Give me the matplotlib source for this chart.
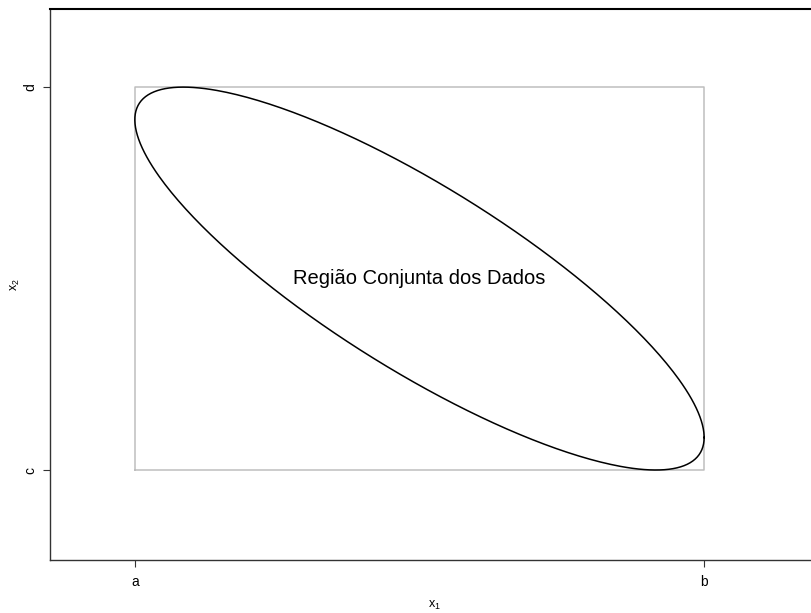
import numpy as np
import matplotlib.pyplot as plt

plt.rcParams['font.family'] = ['Liberation Sans', 'DejaVu Sans']

# region limits (a, b) x (c, d) in unit coordinates
x_ticks = [0.0, 1.0]
x_ticklabels = ['a', 'b']
y_ticks = [0.0, 1.0]
y_ticklabels = ['c', 'd']

# ellipse inscribed in the box: centre, half widths, correlation
centre = (0.5, 0.5)
half = (0.5, 0.5)
rho = -0.83

label = 'Região Conjunta dos Dados'

fig = plt.figure(figsize=(8.11, 6.13), dpi=100)
ax = fig.add_axes([50 / 811, 1 - 560 / 613, 768 / 811, 551 / 613])

# gray box of the individual ranges
ax.plot([x_ticks[0], x_ticks[1], x_ticks[1], x_ticks[0], x_ticks[0]],
        [y_ticks[0], y_ticks[0], y_ticks[1], y_ticks[1], y_ticks[0]],
        color='#bebebe', lw=1.1)

# ellipse touching each side of the box
t = np.linspace(0, 2 * np.pi, 400)
delta = np.arccos(rho)
ex = centre[0] + half[0] * np.cos(t)
ey = centre[1] + half[1] * np.cos(t + delta)
ax.plot(ex, ey, color='black', lw=1.1)

ax.text(0.5, 0.5, label, ha='center', va='center', fontsize=14.5)

ax.set_xlim(-0.149, 1.2)
ax.set_ylim(-0.235, 1.204)
ax.set_xticks(x_ticks)
ax.set_xticklabels(x_ticklabels, fontsize=10)
ax.set_yticks(y_ticks)
ax.set_yticklabels(y_ticklabels, fontsize=10, rotation=90, va='center')
ax.tick_params(length=5, width=0.8, color='#333333')
ax.tick_params(axis='x', pad=6)
ax.tick_params(axis='y', pad=4)
ax.set_xlabel(r'$\mathregular{x_1}$', fontsize=9, va='center')
ax.set_ylabel(r'$\mathregular{x_2}$', fontsize=9, va='center')
ax.xaxis.set_label_coords(0.5, -45 / 551)
ax.yaxis.set_label_coords(-35 / 768, 0.5)

for s in ['left', 'bottom', 'top']:
    ax.spines[s].set_color('#333333')
    ax.spines[s].set_linewidth(1.0)
ax.spines['top'].set_color('black')
ax.spines['top'].set_linewidth(1.5)
ax.spines['right'].set_visible(False)

fig.savefig('out.png', dpi=100)
